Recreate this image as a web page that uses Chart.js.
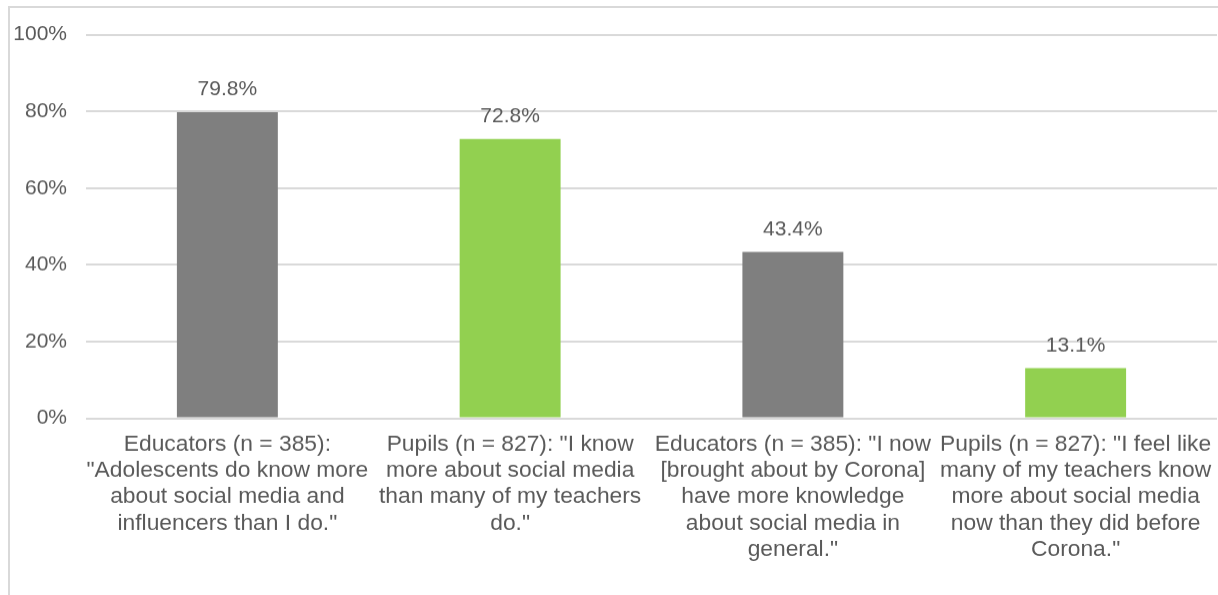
<!DOCTYPE html>
<html>
<head>
<meta charset="utf-8">
<script src="https://cdn.jsdelivr.net/npm/chart.js@4"></script>
<style>
  html, body { margin: 0; padding: 0; background: #fff; overflow: hidden; }
  .frame { position: absolute; left: 8px; top: 6px; width: 1300px; height: 700px; border: 2px solid #d9d9d9; }
  #wrap { position: absolute; left: 10px; top: 3.4px; width: 1208px; height: 591.6px; }
</style>
</head>
<body>
<div class="frame"></div>
<div id="wrap"><canvas id="surveyChart"></canvas></div>
<script>
// survey bars — educators vs pupils on social media knowledge

const categories = [
  ["Educators (n = 385):", "\"Adolescents do know more", "about social media and", "influencers than I do.\""],
  ["Pupils (n = 827): \"I know", "more about social media", "than many of my teachers", "do.\""],
  ["Educators (n = 385): \"I now", "[brought about by Corona]", "have more knowledge", "about social media in", "general.\""],
  ["Pupils (n = 827): \"I feel like", "many of my teachers know", "more about social media", "now than they did before", "Corona.\""]
];
const values = [79.8, 72.8, 43.4, 13.1];
const barColors = ["#7f7f7f", "#92d050", "#7f7f7f", "#92d050"];
const yTicks = [0, 20, 40, 60, 80, 100];

const textColor = "#595959";
const gridColor = "#d9d9d9";
const fontFamily = "'Liberation Sans', Arial, sans-serif";

// value labels above each bar
const valueLabels = {
  id: "valueLabels",
  afterDatasetsDraw(chart) {
    const { ctx } = chart;
    const meta = chart.getDatasetMeta(0);
    ctx.save();
    ctx.fillStyle = textColor;
    ctx.font = "21px " + fontFamily;
    ctx.textAlign = "center";
    ctx.textBaseline = "bottom";
    meta.data.forEach((bar, i) => {
      ctx.fillText(values[i].toFixed(1) + "%", bar.x, bar.y - 12);
    });
    ctx.restore();
  }
};

new Chart(document.getElementById("surveyChart").getContext("2d"), {
  type: "bar",
  plugins: [valueLabels],
  data: {
    labels: categories,
    datasets: [{
      data: values,
      backgroundColor: barColors,
      borderWidth: 0,
      barPercentage: 0.357,
      categoryPercentage: 1.0
    }]
  },
  options: {
    responsive: true,
    maintainAspectRatio: false,
    animation: false,
    layout: { padding: { top: 0, right: 1, bottom: 0, left: 0 } },
    plugins: {
      legend: { display: false },
      tooltip: { enabled: false }
    },
    scales: {
      x: {
        grid: { display: false, drawTicks: false },
        border: { display: false },
        ticks: {
          color: textColor,
          font: { family: fontFamily, size: 22.8, lineHeight: 1.15 },
          padding: 13,
          maxRotation: 0,
          autoSkip: false
        },
        afterFit(axis) {
          axis.height = 177;
          // labels may run to the edge, keep the plot full width
          axis.paddingLeft = 0;
          axis.paddingRight = 0;
        }
      },
      y: {
        min: 0, max: 100,
        afterBuildTicks(axis) { axis.ticks = yTicks.map(v => ({ value: v })); },
        grid: { color: gridColor, lineWidth: 2, drawTicks: false },
        border: { display: false },
        ticks: {
          color: textColor,
          font: { family: fontFamily, size: 21 },
          padding: 19,
          callback: v => v + "%"
        },
        afterFit(axis) { axis.width = 76; }
      }
    }
  }
});
</script>
</body>
</html>
